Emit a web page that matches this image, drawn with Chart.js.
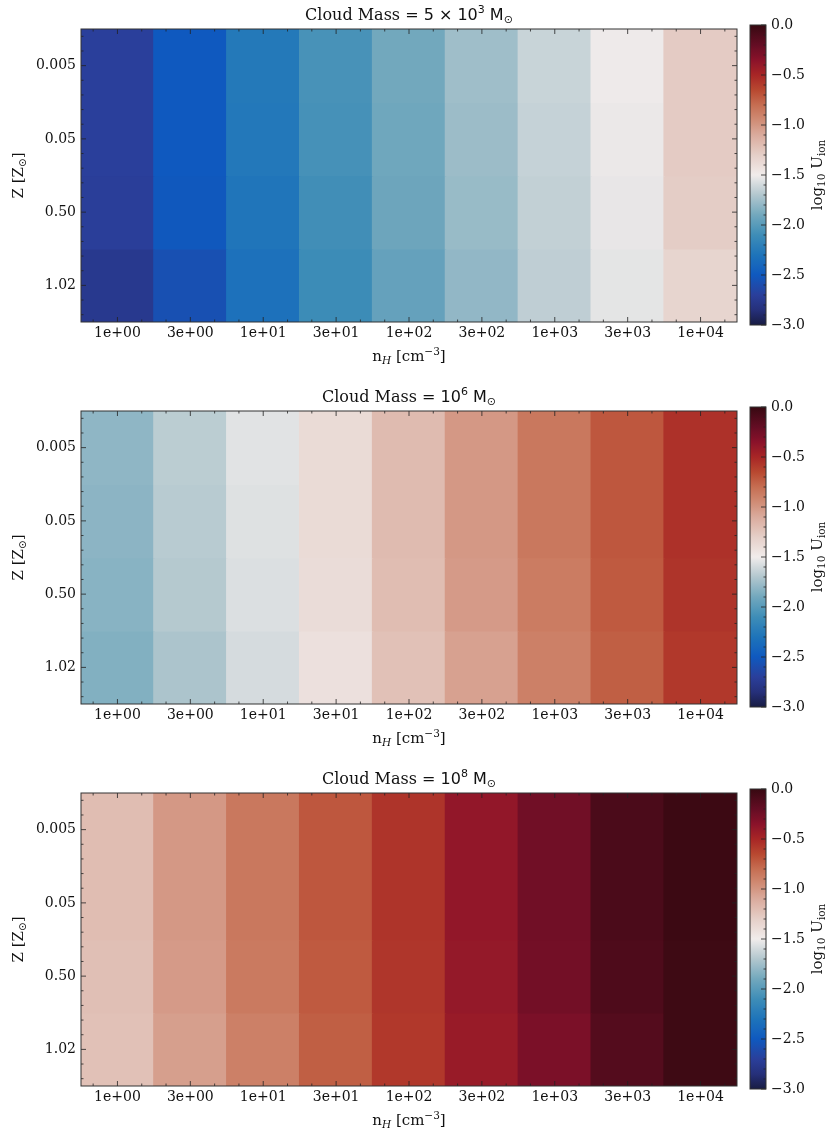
<!DOCTYPE html>
<html>
<head>
<meta charset="utf-8">
<script src="https://cdn.jsdelivr.net/npm/chart.js@4.4.1/dist/chart.umd.min.js"></script>
<style>
  body { margin: 0; background: #fff; width: 826px; height: 1132px; position: relative; overflow: hidden; }
  .panel { position: absolute; left: 0; width: 826px; height: 382px; }
  .panel canvas { position: absolute; top: 0; }
</style>
</head>
<body>
<div class="panel" style="top:0px">
  <canvas id="hm0" width="740" height="382" style="left:0"></canvas>
  <canvas id="cb0" width="86" height="382" style="left:740px"></canvas>
</div>
<div class="panel" style="top:382px">
  <canvas id="hm1" width="740" height="382" style="left:0"></canvas>
  <canvas id="cb1" width="86" height="382" style="left:740px"></canvas>
</div>
<div class="panel" style="top:764px">
  <canvas id="hm2" width="740" height="382" style="left:0"></canvas>
  <canvas id="cb2" width="86" height="382" style="left:740px"></canvas>
</div>
<script>
// density bins (columns) and metallicity bins (rows, top to bottom)
const nH = ['1e+00', '3e+00', '1e+01', '3e+01', '1e+02', '3e+02', '1e+03', '3e+03', '1e+04'];
const Zsol = ['0.005', '0.05', '0.50', '1.02'];

// log10 U_ion, one row per metallicity
const logU_5e3 = [
  [-2.70, -2.50, -2.26, -2.06, -1.90, -1.76, -1.63, -1.51, -1.28],
  [-2.70, -2.50, -2.27, -2.07, -1.91, -1.77, -1.64, -1.52, -1.28],
  [-2.71, -2.51, -2.29, -2.09, -1.92, -1.78, -1.65, -1.53, -1.29],
  [-2.76, -2.57, -2.32, -2.11, -1.95, -1.80, -1.66, -1.54, -1.34]
];
const logU_1e6 = [
  [-1.81, -1.67, -1.55, -1.38, -1.19, -1.01, -0.85, -0.71, -0.55],
  [-1.82, -1.68, -1.56, -1.38, -1.19, -1.01, -0.85, -0.71, -0.55],
  [-1.83, -1.69, -1.57, -1.39, -1.20, -1.02, -0.87, -0.72, -0.56],
  [-1.85, -1.72, -1.59, -1.42, -1.22, -1.05, -0.89, -0.74, -0.58]
];
const logU_1e8 = [
  [-1.20, -1.01, -0.85, -0.71, -0.56, -0.39, -0.25, -0.09, -0.02],
  [-1.20, -1.01, -0.85, -0.71, -0.56, -0.39, -0.25, -0.09, -0.02],
  [-1.21, -1.02, -0.86, -0.72, -0.57, -0.40, -0.26, -0.10, -0.03],
  [-1.22, -1.04, -0.89, -0.74, -0.58, -0.42, -0.29, -0.13, -0.03]
];
const cbarTicks = [-3.0, -2.5, -2.0, -1.5, -1.0, -0.5, 0.0];
const vmin = -3, vmax = 0;

// rough copy of the cmocean "balance" map, keyed by value
const balance = [
  [-3.00, 24, 28, 67], [-2.85, 38, 48, 122], [-2.70, 42, 63, 155], [-2.50, 15, 89, 191],
  [-2.30, 30, 116, 186], [-2.10, 62, 141, 183], [-1.90, 114, 168, 189], [-1.70, 178, 199, 206],
  [-1.50, 241, 236, 235], [-1.30, 229, 207, 200], [-1.10, 218, 171, 157], [-0.95, 208, 140, 117],
  [-0.80, 198, 110, 82], [-0.65, 184, 72, 48], [-0.50, 168, 38, 38], [-0.35, 138, 18, 42],
  [-0.20, 100, 13, 36], [0.00, 55, 9, 17]
];

function cmap(v) {
  v = Math.max(vmin, Math.min(vmax, v));
  for (let i = 1; i < balance.length; i++) {
    const a = balance[i - 1], b = balance[i];
    if (v <= b[0]) {
      const f = (v - a[0]) / (b[0] - a[0]);
      const c = [1, 2, 3].map(k => Math.round(a[k] + f * (b[k] - a[k])));
      return `rgb(${c[0]},${c[1]},${c[2]})`;
    }
  }
  return 'rgb(55,9,17)';
}

const SERIF = '"DejaVu Serif", serif';
const SANS = '"DejaVu Sans", sans-serif';
const INK = '#111';

// draw a run of text pieces [text, size, family, dy, italic] centred on x
function drawRich(ctx, parts, x, y, rot) {
  ctx.save();
  ctx.translate(x, y);
  if (rot) ctx.rotate(rot);
  ctx.fillStyle = INK;
  ctx.textBaseline = 'alphabetic';
  ctx.textAlign = 'left';
  const font = p => `${p[4] ? 'italic ' : ''}${p[1]}px ${p[2]}`;
  let w = 0;
  parts.forEach(p => { ctx.font = font(p); w += ctx.measureText(p[0]).width; });
  let cx = -w / 2;
  parts.forEach(p => {
    ctx.font = font(p);
    ctx.fillText(p[0], cx, p[3] || 0);
    cx += ctx.measureText(p[0]).width;
  });
  ctx.restore();
}

const frameTicks = {
  id: 'frameTicks',
  afterDatasetsDraw(chart) {
    const { ctx, chartArea: a, scales: { x, y } } = chart;
    ctx.save();
    ctx.strokeStyle = '#222';
    ctx.lineWidth = 0.8;
    const seg = (x1, y1, x2, y2) => { ctx.beginPath(); ctx.moveTo(x1, y1); ctx.lineTo(x2, y2); ctx.stroke(); };
    const step = x.getPixelForValue(1) - x.getPixelForValue(0);
    nH.forEach((_, i) => {
      const c = x.getPixelForValue(i);
      [-1, 0, 1].forEach(k => {
        const px = c + k * step / 3, len = k ? 2.5 : 5;
        seg(px, a.bottom, px, a.bottom - len);
        seg(px, a.top, px, a.top + len);
      });
    });
    Zsol.forEach((_, i) => {
      for (let k = -2; k <= 2; k++) {
        const py = y.getPixelForValue(i + k * 0.2), len = k ? 2.5 : 5;
        seg(a.left, py, a.left + len, py);
        seg(a.right, py, a.right - len, py);
      }
    });
    ctx.lineWidth = 1;
    ctx.strokeStyle = '#333';
    ctx.strokeRect(a.left, a.top, a.width, a.height);
    ctx.restore();
  }
};

const axisText = {
  id: 'axisText',
  afterDraw(chart, args, opts) {
    const { ctx, chartArea: a } = chart;
    const mid = (a.left + a.right) / 2;
    drawRich(ctx, opts.title, mid, 20);
    drawRich(ctx, [['n', 15, SERIF], ['H', 10.5, SERIF, 3, true], [' [cm', 15, SERIF],
      ['\u22123', 10.5, SERIF, -6], [']', 15, SERIF]], mid, a.bottom + 39);
    drawRich(ctx, [['Z [Z', 15, SERIF], ['\u2299', 10.5, SANS, 3], [']', 15, SERIF]],
      23, (a.top + a.bottom) / 2, -Math.PI / 2);
  }
};

function heatmap(id, grid, title) {
  const datasets = grid.map((row, r) => ({
    data: row.map(() => [r - 0.5, r + 0.5]),
    backgroundColor: row.map(v => cmap(v)),
    borderWidth: 0,
    inflateAmount: 0.7,
    grouped: false,
    barPercentage: 1,
    categoryPercentage: 1
  }));
  new Chart(document.getElementById(id), {
    type: 'bar',
    data: { labels: nH, datasets },
    options: {
      responsive: false,
      animation: false,
      events: [],
      layout: { padding: { top: 29, right: 3, left: 0, bottom: 0 } },
      plugins: { legend: { display: false }, tooltip: { enabled: false }, axisText: { title } },
      scales: {
        x: {
          type: 'category',
          grid: { display: false, drawTicks: false },
          border: { display: false },
          ticks: { font: { family: SERIF, size: 14 }, color: INK, padding: 3, maxRotation: 0, autoSkip: false },
          afterFit: s => { s.height = 60; }
        },
        y: {
          type: 'linear',
          min: -0.5,
          max: 3.5,
          reverse: true,
          grid: { display: false, drawTicks: false },
          border: { display: false },
          afterBuildTicks: s => { s.ticks = Zsol.map((_, i) => ({ value: i })); },
          ticks: { font: { family: SERIF, size: 14 }, color: INK, padding: 5, callback: v => Zsol[v] },
          afterFit: s => { s.width = 81; }
        }
      }
    },
    plugins: [frameTicks, axisText]
  });
}

function gradient(chart) {
  const { ctx, chartArea, scales } = chart;
  if (!chartArea) return null;
  const y = scales.y;
  const g = ctx.createLinearGradient(0, y.getPixelForValue(vmin), 0, y.getPixelForValue(vmax));
  for (let i = 0; i <= 60; i++) {
    const v = vmin + (vmax - vmin) * i / 60;
    g.addColorStop(i / 60, cmap(v));
  }
  return g;
}

const cbarFrame = {
  id: 'cbarFrame',
  afterDatasetsDraw(chart) {
    const { ctx, chartArea: a, scales: { y } } = chart;
    ctx.save();
    ctx.strokeStyle = '#222';
    ctx.lineWidth = 0.8;
    for (let k = 0; k <= 30; k++) {
      const v = vmin + k * 0.1, py = y.getPixelForValue(v), len = k % 5 ? 2.5 : 5;
      ctx.beginPath(); ctx.moveTo(a.right, py); ctx.lineTo(a.right - len, py); ctx.stroke();
    }
    ctx.lineWidth = 1;
    ctx.strokeStyle = '#333';
    ctx.strokeRect(a.left, a.top, a.width, a.height);
    ctx.restore();
    drawRich(ctx, [['log', 15, SERIF], ['10', 10.5, SERIF, 3], [' U', 15, SERIF], ['ion', 10.5, SERIF, 3]],
      82, (a.top + a.bottom) / 2, -Math.PI / 2);
  }
};

function colorbar(id) {
  new Chart(document.getElementById(id), {
    type: 'bar',
    data: {
      labels: ['U'],
      datasets: [{
        data: [[vmin, vmax]],
        backgroundColor: c => gradient(c.chart),
        borderWidth: 0,
        barPercentage: 1,
        categoryPercentage: 1
      }]
    },
    options: {
      responsive: false,
      animation: false,
      events: [],
      layout: { padding: { top: 25, left: 10, right: 0, bottom: 57 } },
      plugins: { legend: { display: false }, tooltip: { enabled: false } },
      scales: {
        x: { display: false },
        y: {
          position: 'right',
          min: vmin,
          max: vmax,
          grid: { display: false, drawTicks: false },
          border: { display: false },
          afterBuildTicks: s => { s.ticks = cbarTicks.map(v => ({ value: v })); },
          ticks: {
            font: { family: SERIF, size: 14 }, color: INK, padding: 5,
            callback: v => v.toFixed(1).replace('-', '\u2212')
          },
          afterFit: s => { s.width = 60; }
        }
      }
    },
    plugins: [cbarFrame]
  });
}

const massTitle = (mant, exp) => {
  const parts = [['Cloud Mass = ', 16, SERIF]];
  parts.push([mant ? mant + ' \u00d7 10' : '10', 16, SANS]);
  parts.push([exp, 11, SANS, -7]);
  parts.push([' M', 16, SANS]);
  parts.push(['\u2299', 11, SANS, 3]);
  return parts;
};

heatmap('hm0', logU_5e3, massTitle('5', '3'));
heatmap('hm1', logU_1e6, massTitle('', '6'));
heatmap('hm2', logU_1e8, massTitle('', '8'));
colorbar('cb0');
colorbar('cb1');
colorbar('cb2');
</script>
</body>
</html>
